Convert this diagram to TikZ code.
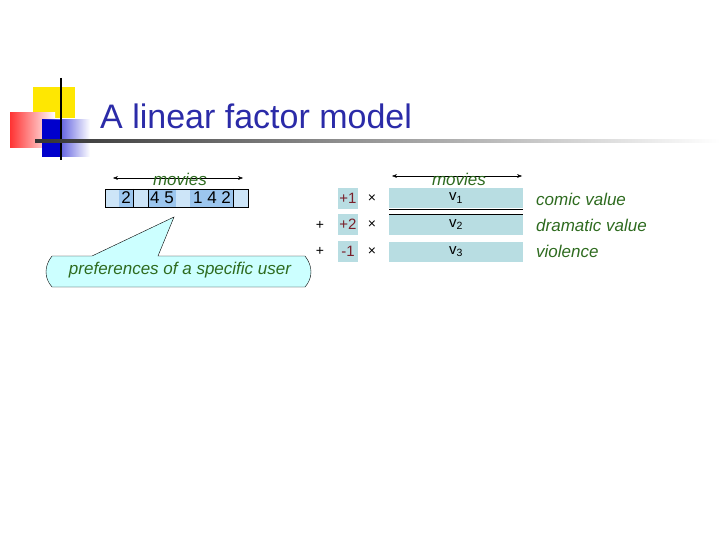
\documentclass[tikz,border=0pt]{standalone}
\usepackage{fontspec}
\setmainfont{Liberation Sans}
\usetikzlibrary{arrows.meta}
\definecolor{ttl}{HTML}{2B2BA8}
\definecolor{grn}{HTML}{2E6B1F}
\definecolor{cellL}{HTML}{CDE5F8}
\definecolor{cellD}{HTML}{9CC6EE}
\definecolor{bar}{HTML}{B8DDE2}
\definecolor{coef}{HTML}{7A1F2A}
\definecolor{callout}{HTML}{CCFFFF}
\tikzset{
 lbl/.style={text=grn,font=\itshape\fontsize{17}{19}\selectfont,inner sep=0},
 num/.style={font=\fontsize{17}{19}\selectfont,inner sep=0},
 coefbox/.style={fill=bar,minimum width=20pt,minimum height=21pt,text=coef,font=\fontsize{15}{17}\selectfont,inner sep=0},
 barbox/.style={fill=bar,minimum width=134pt,minimum height=20pt,inner sep=0,font=\fontsize{15}{17}\selectfont},
 op/.style={font=\fontsize{14}{16}\selectfont,inner sep=0},
 dim/.style={{Stealth[length=5pt]}-{Stealth[length=5pt]},thin}
}
\begin{document}
\begin{tikzpicture}[x=1pt,y=-1pt]
\useasboundingbox (0,0) rectangle (720,540);
% decoration
\fill[yellow!90!orange] (33,87) rectangle (75,118);
\shade[left color=red!80,right color=white] (10,113) rectangle (55,148);
\shade[left color=blue!80!black,right color=white] (42,120) rectangle (90,157);
\fill[blue!80!black] (42,120) rectangle (62,157);
\draw[line width=1.5pt] (61,78) -- (61,160);
\shade[left color=black!80,right color=white] (35,140) rectangle (720,143);
\node[anchor=base west,text=ttl,font=\fontsize{34}{38}\selectfont,inner sep=0] (title) at (100,129) {A linear factor model};
% movie vector
\fill[cellL] (105,189) rectangle (248,207);
\fill[cellD] (119,189) rectangle (133,207);
\fill[cellD] (148,189) rectangle (176,207);
\fill[cellD] (190,189) rectangle (233,207);
\draw (105,189) rectangle (248,207);
\foreach \x in {133,148,233} \draw (\x,189) -- (\x,207);
\node[num] (r1) at (126,198) {2};
\node[num] (r2) at (162,198) {4 5};
\node[num] (r3) at (212,198) {1 4 2};
\coordinate (ma) at (113,178); \coordinate (mb) at (243,178);
\draw[dim] (ma) -- (mb);
\node[lbl] (m1) at (180,179) {movies};
% callout
\draw[fill=callout] (92,256) -- (174,217) -- (158,256) -- (305,256) .. controls (313,266) and (313,278) .. (305,287) -- (52,287) .. controls (44,278) and (44,266) .. (52,256) -- cycle;
\node[lbl] (pref) at (180,270) {preferences of a specific user};
% right side
\coordinate (na) at (392,176); \coordinate (nb) at (522,176);
\draw[dim] (na) -- (nb);
\node[lbl] (m2) at (459,179) {movies};
\node[coefbox] (c1) at (348,198.5) {+1};
\node[coefbox] (c2) at (348,224.5) {+2};
\node[coefbox] (c3) at (348,251) {-1};
\node[op] (x1) at (372,199) {×};
\node[op] (x2) at (372,225) {×};
\node[op] (x3) at (372,252) {×};
\node[op] (p2) at (320,225) {+};
\node[op] (p3) at (320,251) {+};
\node[barbox] (v1) at (456,198) {v\textsubscript{1}};
\node[barbox] (v2) at (456,224.5) {v\textsubscript{2}};
\node[barbox] (v3) at (456,251.5) {v\textsubscript{3}};
\draw (389,209) -- (523,209);
\draw (389,214) -- (523,214);
\node[lbl,anchor=west] (l1) at (536,199) {comic value};
\node[lbl,anchor=west] (l2) at (536,225) {dramatic value};
\node[lbl,anchor=west] (l3) at (536,251) {violence};
\end{tikzpicture}
\end{document}
